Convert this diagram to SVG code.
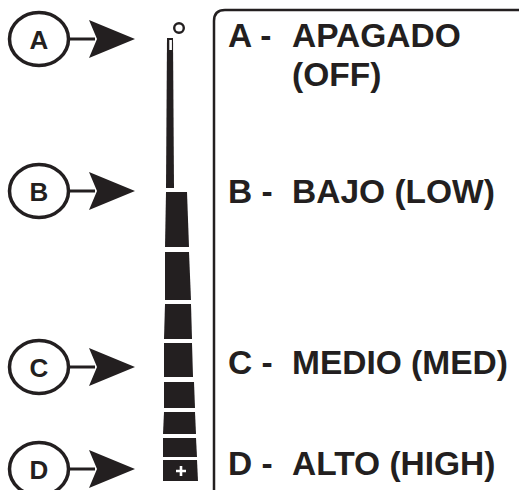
<svg xmlns="http://www.w3.org/2000/svg" width="519" height="490" viewBox="0 0 519 490">
<defs>
<style>
.ring{fill:#fff;stroke:#231f20;stroke-width:3.5}
.ltr{font-family:"Liberation Sans",Arial,sans-serif;font-weight:bold;font-size:26px;fill:#231f20;text-anchor:middle}
.lbl{font-family:"Liberation Sans",Arial,sans-serif;font-weight:bold;font-size:33.5px;fill:#231f20}
.shaft{stroke:#231f20;stroke-width:3;fill:none}
.head{fill:#231f20}
.seg{fill:#231f20}
</style>
</defs>
<rect width="519" height="490" fill="#fff"/>
<g id="connectors">
<line class="shaft" x1="69" y1="39" x2="95" y2="39"/>
<polygon class="head" points="89,20 135,39 89,58 97,39"/>
<line class="shaft" x1="69" y1="191" x2="95" y2="191"/>
<polygon class="head" points="89,172 135,191 89,210 97,191"/>
<line class="shaft" x1="69" y1="367" x2="95" y2="367"/>
<polygon class="head" points="89,348 135,367 89,386 97,367"/>
<line class="shaft" x1="69" y1="469" x2="95" y2="469"/>
<polygon class="head" points="89,450 135,469 89,488 97,469"/>
</g>
<g id="nodeA">
<ellipse class="ring" cx="39" cy="39" rx="29.5" ry="26.5"/>
<text class="ltr" x="39" y="48.5">A</text>
</g>
<g id="nodeB">
<ellipse class="ring" cx="39" cy="191" rx="29.5" ry="26.5"/>
<text class="ltr" x="39" y="200.5">B</text>
</g>
<g id="nodeC">
<ellipse class="ring" cx="39" cy="367" rx="29.5" ry="26.5"/>
<text class="ltr" x="39" y="376.5">C</text>
</g>
<g id="nodeD">
<ellipse class="ring" cx="39" cy="469" rx="29.5" ry="26.5"/>
<text class="ltr" x="39" y="478.5">D</text>
</g>
<g id="bar">
<circle cx="179" cy="28" r="4.8" fill="none" stroke="#231f20" stroke-width="2.4"/>
<polygon class="seg" points="167,38 173,38 174,188 166,188"/>
<rect x="169.3" y="40" width="2.6" height="10" fill="#fff"/>
<polygon class="seg" points="166,192 187,192 189,247 165,247"/>
<polygon class="seg" points="165,252 189,252 191,300 165,300"/>
<polygon class="seg" points="165,304 191,304 192,339 164,339"/>
<polygon class="seg" points="164,343 192,343 193,377 164,377"/>
<polygon class="seg" points="164,382 194,382 195,408 164,408"/>
<polygon class="seg" points="164,412 195,412 196,434 163,434"/>
<polygon class="seg" points="163,438 196,438 197,457 163,457"/>
<polygon class="seg" points="163,460 197,460 198,481 163,481"/>
<path d="M176,471 H186 M181,466 V476" stroke="#fff" stroke-width="2.6" fill="none"/>
</g>
<g id="legend">
<path d="M214,490 V21 Q214,10 225,10 H519" fill="none" stroke="#231f20" stroke-width="2.5"/>
<text class="lbl" x="228" y="47">A -</text>
<text class="lbl" x="292" y="47">APAGADO</text>
<text class="lbl" x="292" y="86">(OFF)</text>
<text class="lbl" x="228" y="203">B -</text>
<text class="lbl" x="292" y="203">BAJO (LOW)</text>
<text class="lbl" x="228" y="374">C -</text>
<text class="lbl" x="292" y="374">MEDIO (MED)</text>
<text class="lbl" x="228" y="475">D -</text>
<text class="lbl" x="292" y="475">ALTO (HIGH)</text>
</g>
</svg>
